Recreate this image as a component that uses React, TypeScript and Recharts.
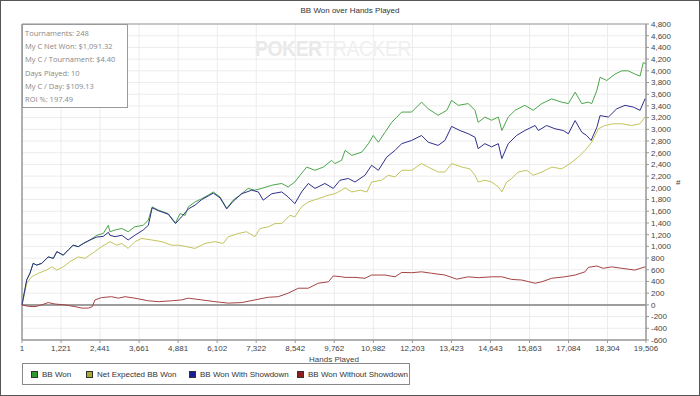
import React from 'react';
import { LineChart, Line, XAxis, YAxis, CartesianGrid, ReferenceLine } from 'recharts';

// x = hands played, y = big blinds won
const handTicks = [1, 1221, 2441, 3661, 4881, 6102, 7322, 8542, 9762, 10982, 12203, 13423, 14643, 15863, 17084, 18304, 19506];
const bbTicks = [-600, -400, -200, 0, 200, 400, 600, 800, 1000, 1200, 1400, 1600, 1800, 2000, 2200, 2400, 2600, 2800, 3000, 3200, 3400, 3600, 3800, 4000, 4200, 4400, 4600, 4800];

const bbWon: [number, number][] = [
  [1, 0], [150, 430], [250, 540], [350, 710], [460, 680], [620, 710], [820, 820], [980, 795], [1090, 910], [1290, 850],
  [1450, 940], [1600, 1020], [1760, 995], [1920, 1050], [2130, 1110], [2340, 1190], [2540, 1220], [2700, 1360], [2750, 1250],
  [2910, 1280], [3120, 1305], [3320, 1250], [3530, 1335], [3790, 1360], [3950, 1450], [4070, 1675], [4260, 1620], [4570, 1560],
  [4800, 1400], [4940, 1560], [5100, 1530], [5200, 1675], [5410, 1760], [5620, 1815], [5820, 1875], [5980, 1930], [6190, 1845],
  [6400, 1650], [6600, 1790], [6810, 1875], [7070, 1990], [7280, 1960], [7490, 1990], [7810, 2045], [8120, 2075], [8320, 2015],
  [8530, 2100], [8690, 2215], [8900, 2355], [9160, 2300], [9420, 2355], [9680, 2470], [9780, 2415], [9990, 2470], [10100, 2640],
  [10310, 2555], [10620, 2610], [10830, 2755], [10980, 2895], [11140, 2780], [11350, 2950], [11560, 3120], [11870, 3295],
  [12180, 3295], [12490, 3465], [12700, 3350], [13010, 3240], [13280, 3325], [13430, 3495], [13640, 3410], [13950, 3440],
  [14160, 3325], [14260, 3120], [14470, 3210], [14680, 3155], [14890, 3210], [15000, 2980], [15200, 3210], [15410, 3325],
  [15720, 3410], [15980, 3325], [16250, 3440], [16560, 3520], [16870, 3465], [17080, 3440], [17290, 3635], [17500, 3440],
  [17700, 3465], [17810, 3440], [17970, 3665], [18070, 3890], [18280, 3835], [18540, 3945], [18750, 4000], [18950, 4000],
  [19160, 3945], [19320, 3910], [19420, 4140], [19506, 4120],
];

const netExpected: [number, number][] = [
  [1, 0], [150, 370], [300, 480], [510, 540], [770, 595], [930, 650], [1090, 595], [1290, 650], [1500, 740], [1760, 820],
  [1970, 795], [2280, 910], [2490, 995], [2750, 1080], [2960, 1020], [3120, 1050], [3320, 965], [3530, 1080], [3740, 1135],
  [4050, 1110], [4370, 1080], [4680, 1020], [4890, 1020], [5100, 1000], [5410, 965], [5720, 1050], [6030, 1080], [6290, 1050],
  [6450, 1165], [6760, 1220], [7020, 1250], [7280, 1165], [7440, 1305], [7700, 1335], [7910, 1390], [8120, 1390], [8380, 1530],
  [8530, 1505], [8740, 1675], [8950, 1760], [9260, 1815], [9580, 1875], [9780, 1900], [9990, 1960], [10100, 2000], [10310, 1930],
  [10570, 1960], [10780, 1930], [10930, 2100], [11240, 2130], [11450, 2215], [11660, 2185], [11870, 2300], [12180, 2300],
  [12490, 2415], [12700, 2355], [13010, 2270], [13220, 2270], [13430, 2415], [13750, 2355], [14000, 2325], [14160, 2215],
  [14260, 2100], [14470, 2130], [14680, 2100], [14890, 2015], [15000, 1930], [15150, 2100], [15310, 2160], [15510, 2270],
  [15780, 2300], [15980, 2215], [16250, 2270], [16560, 2355], [16870, 2325], [17130, 2415], [17390, 2525], [17600, 2640],
  [17810, 2780], [18020, 3010], [18220, 3065], [18480, 3095], [18750, 3095], [19060, 3065], [19320, 3095], [19475, 3210],
  [19506, 3200],
];

const withShowdown: [number, number][] = [
  [1, 0], [150, 430], [250, 540], [350, 710], [460, 680], [620, 710], [820, 820], [980, 795], [1090, 910], [1290, 850],
  [1450, 940], [1600, 1020], [1760, 995], [1920, 1050], [2130, 1110], [2340, 1160], [2540, 1170], [2700, 1240], [2750, 1190],
  [2910, 1165], [3120, 1190], [3320, 1110], [3530, 1190], [3790, 1280], [3950, 1360], [4070, 1660], [4260, 1610], [4570, 1550],
  [4800, 1390], [4990, 1505], [5200, 1640], [5410, 1705], [5620, 1800], [5820, 1860], [5980, 1910], [6190, 1830], [6400, 1640],
  [6600, 1770], [6870, 1900], [7180, 1960], [7390, 1930], [7540, 1790], [7810, 1900], [8120, 1930], [8320, 1845], [8530, 1730],
  [8740, 1930], [8950, 2075], [9160, 1990], [9470, 2075], [9730, 1990], [9940, 2130], [10200, 2160], [10410, 2100],
  [10720, 2215], [10930, 2385], [11140, 2300], [11400, 2525], [11660, 2640], [11870, 2755], [12180, 2810], [12490, 2895],
  [12700, 2780], [13010, 2725], [13220, 2810], [13430, 3050], [13690, 2980], [13950, 2925], [14160, 2865], [14260, 2670],
  [14470, 2755], [14680, 2700], [14890, 2755], [15000, 2500], [15200, 2755], [15460, 2895], [15720, 2980], [16040, 3065],
  [16140, 2980], [16400, 3065], [16660, 3010], [16920, 2980], [17080, 2925], [17290, 3150], [17500, 2950], [17650, 2895],
  [17790, 2810], [17970, 3035], [18070, 3235], [18330, 3210], [18590, 3350], [18850, 3410], [19110, 3380], [19320, 3325],
  [19475, 3520], [19506, 3500],
];

const withoutShowdown: [number, number][] = [
  [1, 0], [200, -25], [410, -30], [620, 0], [820, 40], [1030, 15], [1340, 0], [1660, -30], [1870, -55], [2070, -55],
  [2200, -30], [2280, 85], [2490, 125], [2800, 140], [3010, 115], [3220, 140], [3530, 115], [3950, 70], [4260, 55], [4680, 70],
  [4990, 85], [5200, 115], [5620, 85], [6030, 55], [6450, 30], [6870, 40], [7280, 85], [7700, 130], [8010, 140], [8320, 200],
  [8640, 285], [8950, 285], [9260, 370], [9580, 395], [9730, 495], [9990, 480], [10100, 470], [10410, 470], [10720, 455],
  [10930, 510], [11350, 510], [11660, 480], [11870, 555], [12180, 550], [12490, 565], [12810, 540], [13220, 510], [13590, 440],
  [13950, 480], [14260, 465], [14680, 480], [15000, 480], [15310, 435], [15620, 425], [16040, 370], [16250, 395], [16560, 455],
  [16970, 480], [17290, 510], [17600, 565], [17700, 640], [17970, 665], [18170, 625], [18430, 650], [18750, 625], [19160, 595],
  [19475, 650], [19506, 640],
];

const statLines = [
  'Tournaments: 248',
  'My C Net Won: $1,091.32',
  'My C / Tournament: $4.40',
  'Days Played: 10',
  'My C / Day: $109.13',
  'ROI %: 197.49',
];

const series = [
  { name: 'BB Won', points: bbWon, color: '#4aa64a', swatch: '#2f9a2f' },
  { name: 'Net Expected BB Won', points: netExpected, color: '#c4c45c', swatch: '#a9a92e' },
  { name: 'BB Won With Showdown', points: withShowdown, color: '#2f2f8c', swatch: '#1c1c96' },
  { name: 'BB Won Without Showdown', points: withoutShowdown, color: '#a44444', swatch: '#8e1e1e' },
];

const legendLeft = [8, 63, 166, 274];
const fmt = (v: number) => v.toLocaleString('en-US');
const FONT = '"Liberation Sans", Arial, sans-serif';

export default function App() {
  return (
    <div style={{ position: 'absolute', left: 0, top: 0, width: 700, height: 396, background: '#fff', fontFamily: FONT, overflow: 'hidden' }}>
      <div style={{ position: 'absolute', left: 0, top: 6, width: 700, textAlign: 'center', fontSize: 8, color: '#333' }}>
        BB Won over Hands Played
      </div>
      <div style={{ position: 'absolute', left: 255, top: 36, fontSize: 22, color: '#e9e9e9', whiteSpace: 'nowrap', transform: 'scaleX(0.88)', transformOrigin: 'left top', letterSpacing: -0.5 }}>
        <span style={{ fontWeight: 700 }}>POKER</span><span style={{ color: '#f0f0f0' }}>TRACKER</span>
      </div>
      <LineChart width={700} height={396} margin={{ top: 24, right: 14, bottom: 40, left: 22 }}>
        <CartesianGrid stroke="#ececec" />
        <XAxis
          type="number"
          dataKey="h"
          domain={[1, 19506]}
          ticks={handTicks}
          interval={0}
          height={16}
          tickSize={3}
          tickMargin={2}
          tickFormatter={fmt}
          tick={{ fontSize: 8, fill: '#444', fontFamily: FONT }}
          axisLine={{ stroke: '#999', strokeWidth: 1.5 }}
          tickLine={{ stroke: '#999' }}
          label={{ value: 'Hands Played', position: 'bottom', offset: 0, fontSize: 8, fill: '#444', fontFamily: FONT }}
        />
        <YAxis
          orientation="right"
          type="number"
          domain={[-600, 4800]}
          ticks={bbTicks}
          interval={0}
          width={40}
          tickSize={3}
          tickMargin={2}
          tickFormatter={fmt}
          tick={{ fontSize: 8, fill: '#444', fontFamily: FONT }}
          axisLine={{ stroke: '#999', strokeWidth: 1.5 }}
          tickLine={{ stroke: '#999' }}
          label={{ value: '#', position: 'right', offset: -10, fontSize: 8, fill: '#444', fontFamily: FONT }}
        />
        <ReferenceLine x={1} stroke="#999" strokeWidth={1.5} />
        <ReferenceLine y={4800} stroke="#999" strokeWidth={1} />
        <ReferenceLine y={0} stroke="#808080" strokeWidth={1.5} />
        {series.map(s => (
          <Line
            key={s.name}
            data={s.points.map(([h, v]) => ({ h, v }))}
            dataKey="v"
            name={s.name}
            type="linear"
            stroke={s.color}
            strokeWidth={1}
            dot={false}
            activeDot={false}
            isAnimationActive={false}
          />
        ))}
      </LineChart>
      <div style={{ position: 'absolute', left: 22, top: 24, width: 106, height: 84, boxSizing: 'border-box', border: '1px solid #999', background: '#fff', paddingTop: 2, paddingLeft: 2, fontFamily: '"Open Sans", sans-serif', fontSize: 7.5, lineHeight: '13.2px', color: '#888', whiteSpace: 'nowrap' }}>
        {statLines.map(t => <div key={t}>{t}</div>)}
      </div>
      <div style={{ position: 'absolute', left: 22, top: 363, width: 388, height: 22, boxSizing: 'border-box', border: '1px solid #888', fontSize: 8, color: '#333' }}>
        {series.map((s, i) => (
          <div key={s.name} style={{ position: 'absolute', left: legendLeft[i], top: 6, display: 'flex', alignItems: 'center', whiteSpace: 'nowrap' }}>
            <span style={{ display: 'inline-block', width: 5, height: 5, background: s.swatch, border: '1px solid #333', marginRight: 4 }} />
            <span>{s.name}</span>
          </div>
        ))}
      </div>
      <div style={{ position: 'absolute', left: 0, top: 0, width: 700, height: 396, boxSizing: 'border-box', border: '1px solid #555', pointerEvents: 'none' }} />
    </div>
  );
}
